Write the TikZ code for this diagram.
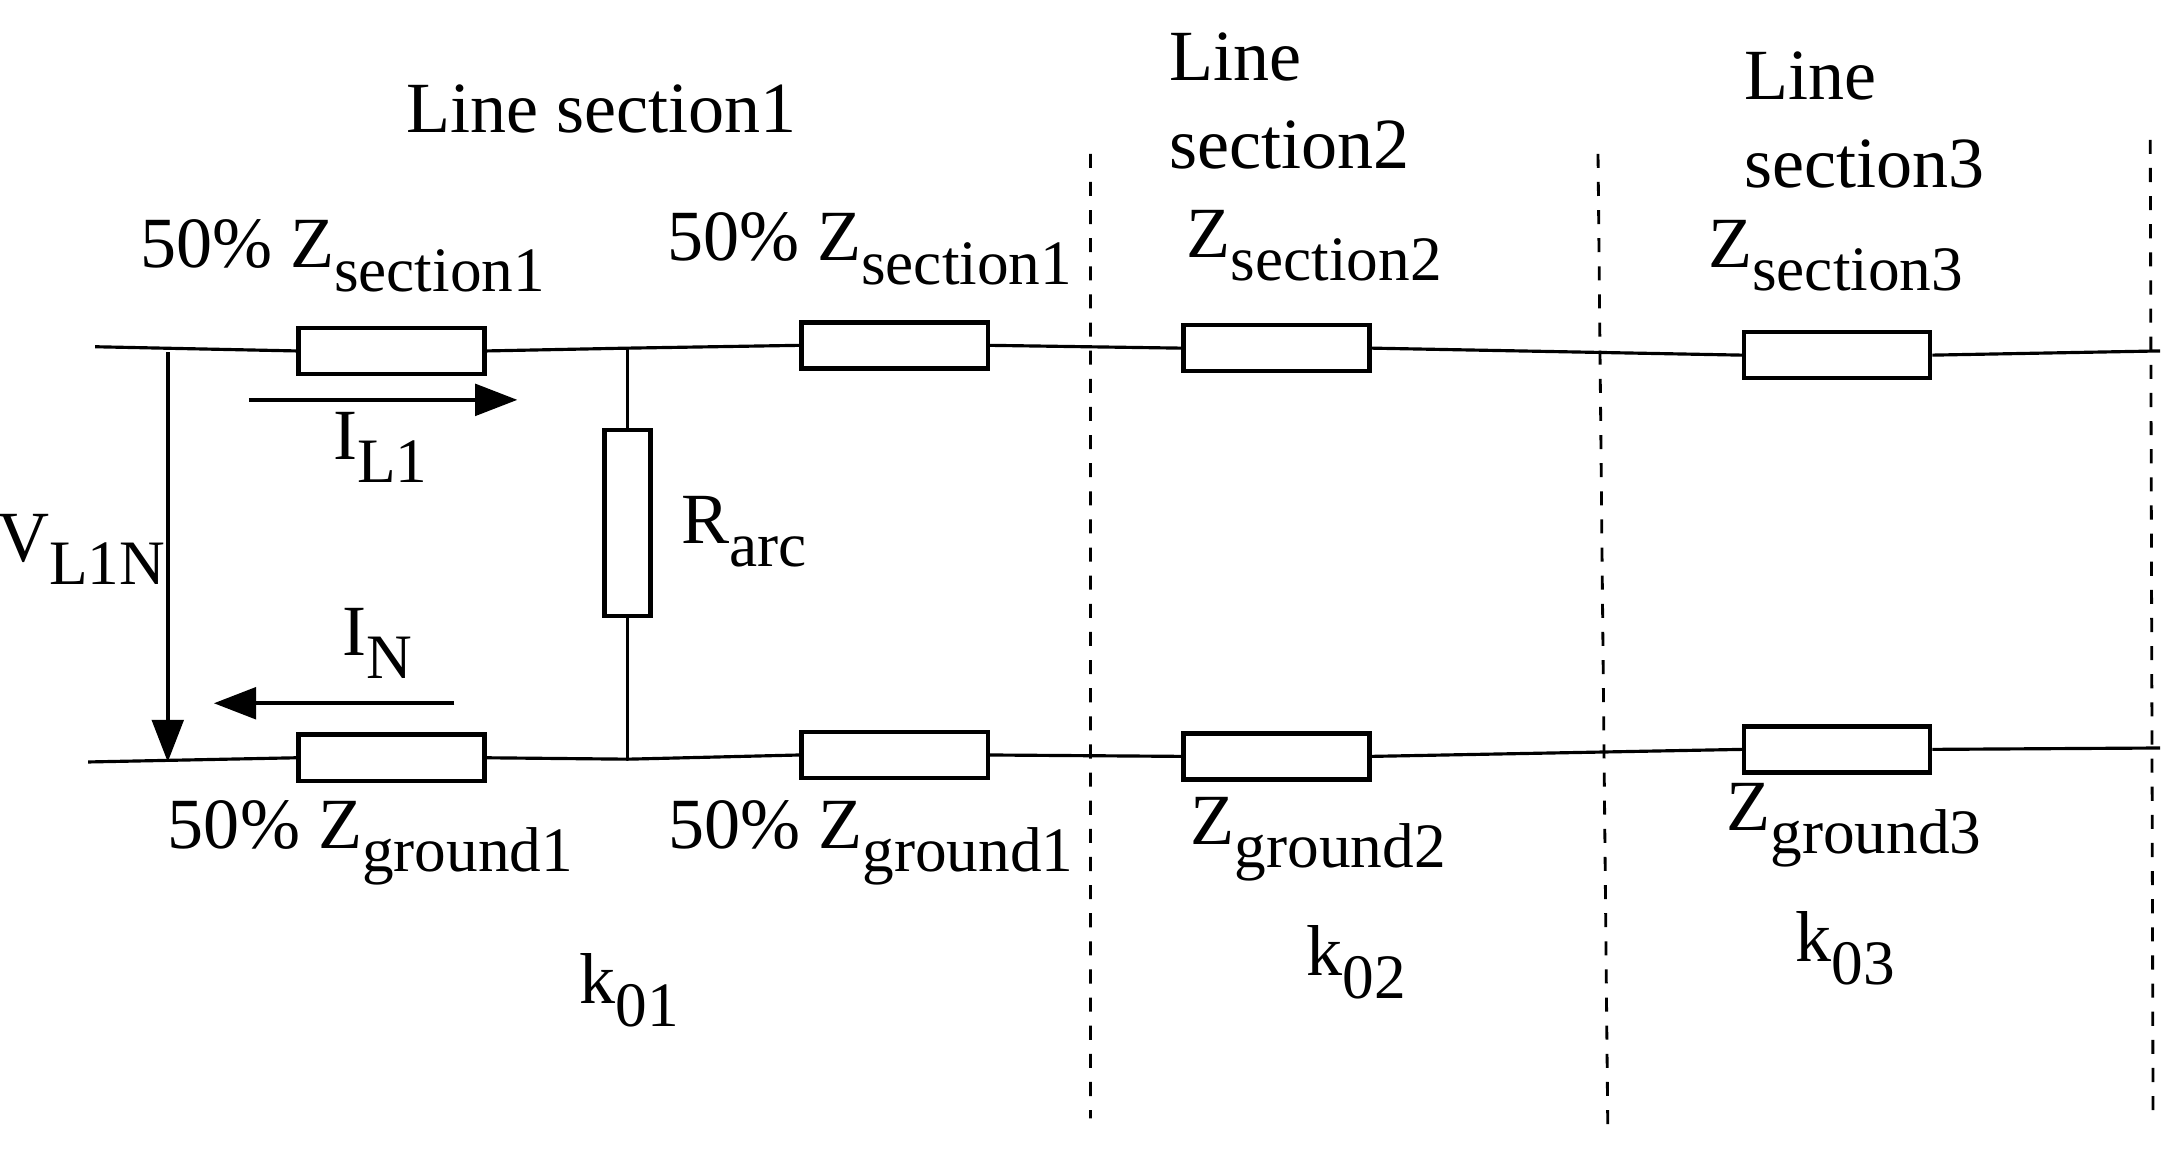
\documentclass[tikz,border=0pt]{standalone}
\usepackage{fontspec}
\setmainfont{Liberation Serif}
\usetikzlibrary{arrows.meta}
\newcommand{\sbx}[1]{\raisebox{-0.32em}{\fontsize{18}{19}\selectfont #1}}
\begin{document}
\begin{tikzpicture}[x=0.01398cm,y=-0.01398cm,
  res/.style={draw,line width=1.3pt,minimum width=1.86cm,minimum height=0.46cm,inner sep=0},
  vres/.style={draw,line width=1.3pt,minimum width=0.46cm,minimum height=1.86cm,inner sep=0},
  wire/.style={line width=0.9pt},
  dsh/.style={line width=0.8pt,dash pattern=on 4pt off 4pt},
  arr/.style={line width=1pt,-{Triangle[length=12pt,width=9pt]}},
  lbl/.style={font=\fontsize{20.5}{25}\selectfont,inner sep=0}]
\useasboundingbox (0,0) rectangle (1560,822);
% top
\coordinate (tl) at (68,248); \coordinate (tr) at (1545,251);
\node[res] (t1) at (280,251) {}; \node[res] (t2) at (640,247) {};
\node[res] (t3) at (913,249) {}; \node[res] (t4) at (1314,254) {};
\coordinate (jt) at (449,249);
\draw[wire] (tl) -- (t1.west) (t1.east) -- (jt) -- (t2.west) (t2.east) -- (t3.west) (t3.east) -- (t4.west) (t4.east) -- (tr);
% bottom
\coordinate (bl) at (63,545); \coordinate (br) at (1545,535);
\node[res] (b1) at (280,542) {}; \node[res] (b2) at (640,540) {};
\node[res] (b3) at (913,541) {}; \node[res] (b4) at (1314,536) {};
\coordinate (jb) at (449,543);
\draw[wire] (bl) -- (b1.west) (b1.east) -- (jb) -- (b2.west) (b2.east) -- (b3.west) (b3.east) -- (b4.west) (b4.east) -- (br);
% arc
\node[vres] (ra) at (449,374) {};
\draw[wire] (jt) -- (ra.north) (ra.south) -- (jb);
% arrows
\coordinate (v1) at (120,252); \coordinate (v2) at (120,545);
\draw[arr] (v1) -- (v2);
\coordinate (i1) at (178,286); \coordinate (i2) at (370,286);
\draw[arr] (i1) -- (i2);
\coordinate (n1) at (325,503); \coordinate (n2) at (153,503);
\draw[arr] (n1) -- (n2);
% dashed
\coordinate (d1a) at (780,110); \coordinate (d1b) at (780,800);
\coordinate (d2a) at (1143,110); \coordinate (d2b) at (1150,808);
\coordinate (d3a) at (1538,100); \coordinate (d3b) at (1540,800);
\draw[dsh] (d1a) -- (d1b) (d2a) -- (d2b) (d3a) -- (d3b);
% labels
\node[lbl] (ls1) at (430,78) {Line section1};
\node[lbl,align=left,anchor=west] (ls2) at (836,72) {Line\\section2};
\node[lbl,align=left,anchor=west] (ls3) at (1247,86) {Line\\section3};
\node[lbl] (zs1a) at (245,183) {50\% Z\sbx{section1}};
\node[lbl] (zs1b) at (622,178) {50\% Z\sbx{section1}};
\node[lbl] (zs2) at (940,176) {Z\sbx{section2}};
\node[lbl] (zs3) at (1313,183) {Z\sbx{section3}};
\node[lbl] (zg1a) at (265,603) {50\% Z\sbx{ground1}};
\node[lbl] (zg1b) at (623,603) {50\% Z\sbx{ground1}};
\node[lbl] (zg2) at (943,600) {Z\sbx{ground2}};
\node[lbl] (zg3) at (1326,590) {Z\sbx{ground3}};
\node[lbl] (k1) at (450,708) {k\sbx{01}};
\node[lbl] (k2) at (970,688) {k\sbx{02}};
\node[lbl] (k3) at (1320,678) {k\sbx{03}};
\node[lbl] (il1) at (272,320) {I\sbx{L1}};
\node[lbl] (in) at (270,460) {I\sbx{N}};
\node[lbl] (vl) at (58,393) {V\sbx{L1N}};
\node[lbl] (rarc) at (532,380) {R\sbx{arc}};
\end{tikzpicture}
\end{document}
